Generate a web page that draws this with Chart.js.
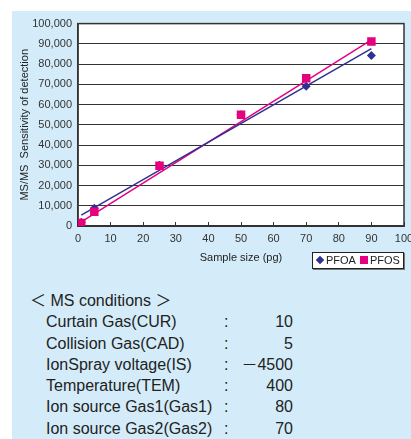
<!DOCTYPE html>
<html>
<head>
<meta charset="utf-8">
<script src="https://cdn.jsdelivr.net/npm/chart.js@4/dist/chart.umd.min.js"></script>
<style>
  body { margin: 0; width: 411px; height: 439px; overflow: hidden; background: #fff; position: relative; font-family: "Liberation Sans", Arial, "Noto Sans CJK JP", sans-serif; color: #222; }
  #panel { position: absolute; left: 12px; top: 11px; width: 399px; height: 428px; background: #d4ecf9; overflow: hidden; }
  #chartBox { position: absolute; left: 0; top: 0; }
  #legend { position: absolute; left: 300px; top: 241px; width: 90px; height: 15px; background: #fff; border: 1px solid #222; box-shadow: 1px 1px 0 #777; font-size: 11px; line-height: 15px; white-space: nowrap; }
  #legend .item { display: inline-block; margin-left: 4px; }
  #legend .mark { display: inline-block; vertical-align: middle; margin-right: 2px; position: relative; top: -1px; }
  #cond { position: absolute; left: 0; top: 279px; width: 399px; font-size: 16px; }
  #cond .row { position: relative; height: 21.3px; line-height: 21.3px; }
  #cond .row span { position: absolute; top: 0; white-space: pre; }
</style>
</head>
<body>
<div id="panel">
  <div id="chartBox"><canvas id="chart" width="430" height="270"></canvas></div>
  <div id="legend"></div>
  <div id="cond"></div>
</div>
<script>
// values
const sampleSize = [1, 5, 25, 50, 70, 90]
const pfoa = [1800, 8800, 30000, 55000, 69000, 84200]
const pfos = [1500, 7000, 29800, 55000, 73000, 91100]

// straight fit lines, end points
const trendX = [1, 90]
const pfoaTrend = [5400, 87600]
const pfosTrend = [2000, 92000]

const seriesNames = ["PFOA", "PFOS"]
const blue = "#2e3192"
const pink = "#e4007f"

const condTitle = "＜ MS conditions ＞"
const condLabels = ["Curtain Gas(CUR)", "Collision Gas(CAD)", "IonSpray voltage(IS)", "Temperature(TEM)", "Ion source Gas1(Gas1)", "Ion source Gas2(Gas2)"]
const condValues = ["10", "5", "－4500", "400", "80", "70"]

function pts(xs, ys) {
    return xs.map((x, i) => ({ x: x, y: ys[i] }))
}

const fontFam = '"Liberation Sans", Arial, sans-serif'

let frame = {
    id: "frame",
    beforeDraw(chart) {
        let a = chart.chartArea
        let ctx = chart.ctx
        ctx.save()
        ctx.fillStyle = "#fff"
        ctx.fillRect(a.left, a.top, a.right - a.left, a.bottom - a.top)
        ctx.restore()
    },
    beforeDatasetsDraw(chart) {
        let a = chart.chartArea
        let ctx = chart.ctx
        ctx.save()
        ctx.strokeStyle = "#333"
        ctx.lineWidth = 1.5
        ctx.strokeRect(a.left, a.top, a.right - a.left, a.bottom - a.top)
        ctx.restore()
    }
}

let chart = new Chart(document.getElementById("chart").getContext("2d"), {
    type: "scatter",
    data: {
        datasets: [
            { label: seriesNames[1], data: pts(sampleSize, pfos), pointStyle: "rect", pointRadius: 6, backgroundColor: pink, borderColor: pink, borderWidth: 0, showLine: false, order: 0 },
            { label: seriesNames[0], data: pts(sampleSize, pfoa), pointStyle: "rectRot", pointRadius: 4.5, backgroundColor: blue, borderColor: blue, borderWidth: 0, showLine: false, order: 1 },
            { label: "PFOA fit", data: pts(trendX, pfoaTrend), showLine: true, pointRadius: 0, borderColor: blue, borderWidth: 1.5, order: 2 },
            { label: "PFOS fit", data: pts(trendX, pfosTrend), showLine: true, pointRadius: 0, borderColor: pink, borderWidth: 1.5, order: 3 }
        ]
    },
    options: {
        responsive: false,
        animation: false,
        layout: { padding: { left: 0, top: 12, right: 38, bottom: 16 } },
        plugins: { legend: { display: false }, tooltip: { enabled: false } },
        scales: {
            x: {
                type: "linear", min: 0, max: 100,
                ticks: { stepSize: 10, padding: 10, color: "#333", font: { family: fontFam, size: 11 } },
                grid: { drawOnChartArea: false, drawTicks: true, tickLength: -4, color: "#333" },
                border: { color: "#333", width: 1.5 },
                title: { display: true, text: "Sample size (pg)", color: "#222", font: { family: fontFam, size: 11 }, padding: { top: 0, bottom: 0 } },
                afterFit: s => { s.height = 39 }
            },
            y: {
                min: 0, max: 100000,
                ticks: { stepSize: 10000, padding: 6, color: "#333", font: { family: fontFam, size: 11 }, callback: v => v.toLocaleString("en-US") },
                grid: { color: "#333", drawTicks: false },
                border: { color: "#333", width: 1.5 },
                title: { display: true, text: "MS/MS  Sensitivity of detection", color: "#222", font: { family: fontFam, size: 11 }, padding: { top: 6, bottom: 0 } },
                afterFit: s => { s.width = 66 }
            }
        }
    },
    plugins: [frame]
})

// legend built from the two marker series
let legend = document.getElementById("legend")
;[1, 0].forEach(i => {
    let ds = chart.data.datasets[i]
    let item = document.createElement("span")
    item.className = "item"
    let mark = document.createElement("span")
    mark.className = "mark"
    mark.style.background = ds.backgroundColor
    if (ds.pointStyle == "rectRot") {
        mark.style.width = "6px"
        mark.style.height = "6px"
        mark.style.transform = "rotate(45deg)"
        mark.style.marginRight = "3px"
    } else {
        mark.style.width = "8px"
        mark.style.height = "8px"
    }
    item.appendChild(mark)
    item.appendChild(document.createTextNode(ds.label))
    legend.appendChild(item)
})

// MS conditions text
let cond = document.getElementById("cond")
let head = document.createElement("div")
head.className = "row"
let hs = document.createElement("span")
hs.style.left = "18px"
hs.textContent = condTitle
head.appendChild(hs)
cond.appendChild(head)

for (let i = 0; i < condLabels.length; i++) {
    let row = document.createElement("div")
    row.className = "row"
    let l = document.createElement("span")
    l.style.left = "34px"
    l.textContent = condLabels[i]
    let c = document.createElement("span")
    c.style.left = "212px"
    c.textContent = ":"
    let v = document.createElement("span")
    v.style.right = "118px"
    v.textContent = condValues[i]
    row.appendChild(l)
    row.appendChild(c)
    row.appendChild(v)
    cond.appendChild(row)
}
</script>
</body>
</html>
